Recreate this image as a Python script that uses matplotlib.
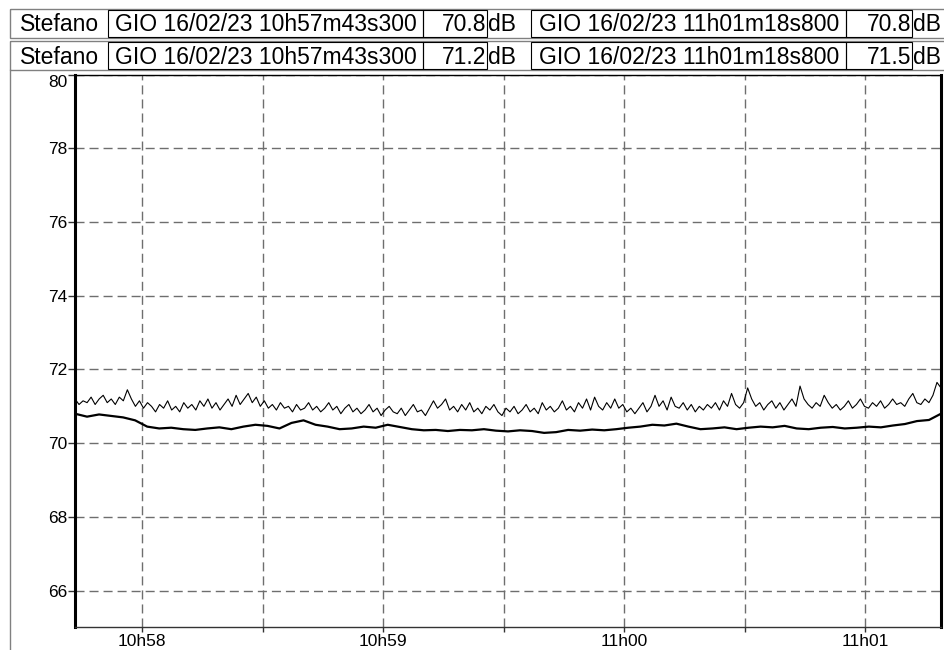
"""Two sound level traces, 10h57 - 11h01"""

import matplotlib.pyplot as plt
import numpy as np
from matplotlib.patches import Rectangle

plt.rcParams['font.family'] = ['Liberation Sans', 'DejaVu Sans']

# time axis: seconds after 10h57m00s
t_start = 43.3   # 10h57m43s300
t_end = 258.8    # 11h01m18s800
major_ticks = [60, 120, 180, 240]
major_labels = ['10h58', '10h59', '11h00', '11h01']
minor_ticks = [90, 150, 210]
y_ticks = [66, 68, 70, 72, 74, 76, 78, 80]

# upper trace (dB), about one reading per second
upper_db = [
    71.2, 71.05, 71.15, 71.1, 71.25, 71.05, 71.2, 71.3, 71.1, 71.2,
    71.05, 71.25, 71.15, 71.45, 71.2, 71.0, 71.15, 70.95, 71.1, 71.0,
    70.85, 71.05, 70.95, 71.15, 70.9, 71.0, 70.85, 71.1, 70.95, 71.05,
    70.9, 71.15, 71.0, 71.2, 70.95, 71.1, 70.9, 71.05, 71.2, 71.0,
    71.3, 71.05, 71.2, 71.35, 71.1, 71.25, 71.0, 71.15, 70.95, 71.05,
    70.9, 71.1, 70.95, 71.0, 70.85, 71.05, 70.9, 70.95, 71.1, 70.9,
    71.0, 70.85, 70.95, 71.1, 70.9, 71.0, 70.8, 70.95, 71.05, 70.85,
    70.95, 70.8, 70.9, 71.05, 70.85, 70.95, 70.75, 70.9, 71.0, 70.85,
    70.8, 70.95, 70.75, 70.9, 71.05, 70.85, 70.9, 70.75, 70.95, 71.15,
    70.95, 71.05, 71.2, 70.9, 71.0, 70.85, 71.05, 70.9, 71.1, 70.85,
    70.95, 70.8, 71.0, 70.9, 71.05, 70.85, 70.75, 70.95, 70.85, 71.0,
    70.8, 70.9, 71.05, 70.85, 70.95, 70.8, 71.1, 70.9, 71.0, 70.85,
    70.95, 71.15, 70.9, 71.0, 70.85, 71.1, 70.95, 71.2, 70.9, 71.25,
    71.0, 70.9, 71.1, 70.95, 71.2, 70.95, 71.05, 70.85, 70.95, 70.8,
    70.95, 71.1, 70.85, 71.0, 71.3, 71.0, 71.15, 70.9, 71.25, 71.0,
    70.95, 71.1, 70.9, 71.05, 70.85, 71.0, 70.9, 71.05, 70.95, 71.1,
    70.9, 71.15, 71.0, 71.35, 71.05, 70.95, 71.1, 71.5, 71.2, 71.0,
    71.1, 70.9, 71.05, 71.15, 70.95, 71.1, 70.9, 71.05, 71.2, 71.0,
    71.55, 71.2, 71.05, 70.95, 71.1, 71.0, 71.3, 71.1, 70.95, 71.05,
    70.9, 71.0, 71.15, 70.95, 71.05, 71.2, 71.0, 70.95, 71.1, 71.0,
    71.15, 70.95, 71.05, 71.2, 71.05, 71.1, 71.0, 71.2, 71.35, 71.1,
    71.05, 71.2, 71.1, 71.3, 71.65, 71.5,
]

# lower trace (dB), one reading every 3 s
lower_db = [
    70.8, 70.72, 70.78, 70.74, 70.7, 70.62, 70.45, 70.4, 70.42, 70.38,
    70.36, 70.4, 70.43, 70.38, 70.45, 70.5, 70.47, 70.4, 70.55, 70.62,
    70.5, 70.45, 70.38, 70.4, 70.45, 70.42, 70.5, 70.44, 70.38, 70.35,
    70.36, 70.33, 70.36, 70.35, 70.38, 70.34, 70.32, 70.35, 70.33, 70.28,
    70.3, 70.36, 70.34, 70.37, 70.35, 70.38, 70.42, 70.45, 70.5, 70.48,
    70.53, 70.45, 70.38, 70.4, 70.43, 70.38, 70.42, 70.45, 70.43, 70.47,
    70.4, 70.38, 70.42, 70.44, 70.4, 70.42, 70.45, 70.43, 70.48, 70.52,
    70.6, 70.63, 70.8,
]

# cursor header
header_name = 'Stefano'
header_start = 'GIO 16/02/23 10h57m43s300'
header_end = 'GIO 16/02/23 11h01m18s800'
start_values = ['70.8', '71.2']
end_values = ['70.8', '71.5']

t_upper = np.linspace(t_start, t_end, len(upper_db))
t_lower = np.linspace(t_start, t_end, len(lower_db))

W, H = 944, 650
fig = plt.figure(figsize=(W / 100, H / 100), dpi=100)
ax = fig.add_axes([75 / W, 1 - 626.7 / H, 866 / W, 552 / H])

ax.plot(t_upper, upper_db, color='black', lw=0.8)
ax.plot(t_lower, lower_db, color='black', lw=1.6)

ax.set_xlim(t_start, t_end)
ax.set_ylim(65.02, 80)
ax.set_xticks(major_ticks)
ax.set_xticklabels(major_labels)
ax.set_xticks(minor_ticks, minor=True)
ax.set_yticks(y_ticks)
ax.set_yticklabels([str(v) for v in y_ticks])
ax.get_yticklabels()[-1].set_va('top')  # top label sits under its tick

ax.tick_params(axis='y', direction='out', length=5, width=1, pad=0.5,
               labelsize=12.5, color='#333333')
ax.tick_params(axis='x', which='both', direction='out', length=3.6, width=1,
               pad=2, labelsize=12.5, color='#333333')

# dashed grey grid
grid_kw = dict(color='#6e6e6e', linestyle=(0, (6.5, 3.6)), linewidth=1)
ax.grid(True, axis='x', which='both', **grid_kw)
ax.grid(True, axis='y', which='major', **grid_kw)
ax.set_axisbelow(True)

ax.spines['left'].set_linewidth(2.2)
ax.spines['right'].set_linewidth(2.2)
ax.spines['top'].set_linewidth(1)
ax.spines['bottom'].set_linewidth(1)
ax.spines['bottom'].set_color('#333333')

# header boxes, drawn in pixel coordinates
hd = fig.add_axes([0, 0, 1, 1])
hd.set_xlim(0, W)
hd.set_ylim(H, 0)
hd.axis('off')

rows = [(9.3, 37.7, start_values[0], end_values[0]),
        (40.7, 70.0, start_values[1], end_values[1])]
cells = [(108, 422.7), (422.7, 487), (531, 846), (846, 911.7)]
fs = 16.5
for top, bottom, v0, v1 in rows:
    hd.add_patch(Rectangle((9.5, top), 960, bottom - top, fill=False,
                           ec='#808080', lw=1))
    for x0, x1 in cells:
        hd.add_patch(Rectangle((x0, top + 1), x1 - x0, bottom - top - 2,
                               fill=False, ec='black', lw=0.8))
    base = bottom - 6.3
    hd.text(60, base, header_name, ha='center', va='baseline', fontsize=fs)
    hd.text(265.5, base, header_start, ha='center', va='baseline', fontsize=fs)
    hd.text(486.5, base, v0, ha='right', va='baseline', fontsize=fs)
    hd.text(488, base, 'dB', ha='left', va='baseline', fontsize=fs)
    hd.text(689.5, base, header_end, ha='center', va='baseline', fontsize=fs)
    hd.text(911, base, v1, ha='right', va='baseline', fontsize=fs)
    hd.text(912.5, base, 'dB', ha='left', va='baseline', fontsize=fs)

# grey frame line down the left side
hd.plot([9.5, 9.5], [70, H], color='#808080', lw=1)

plt.savefig('out.png', dpi=100)
